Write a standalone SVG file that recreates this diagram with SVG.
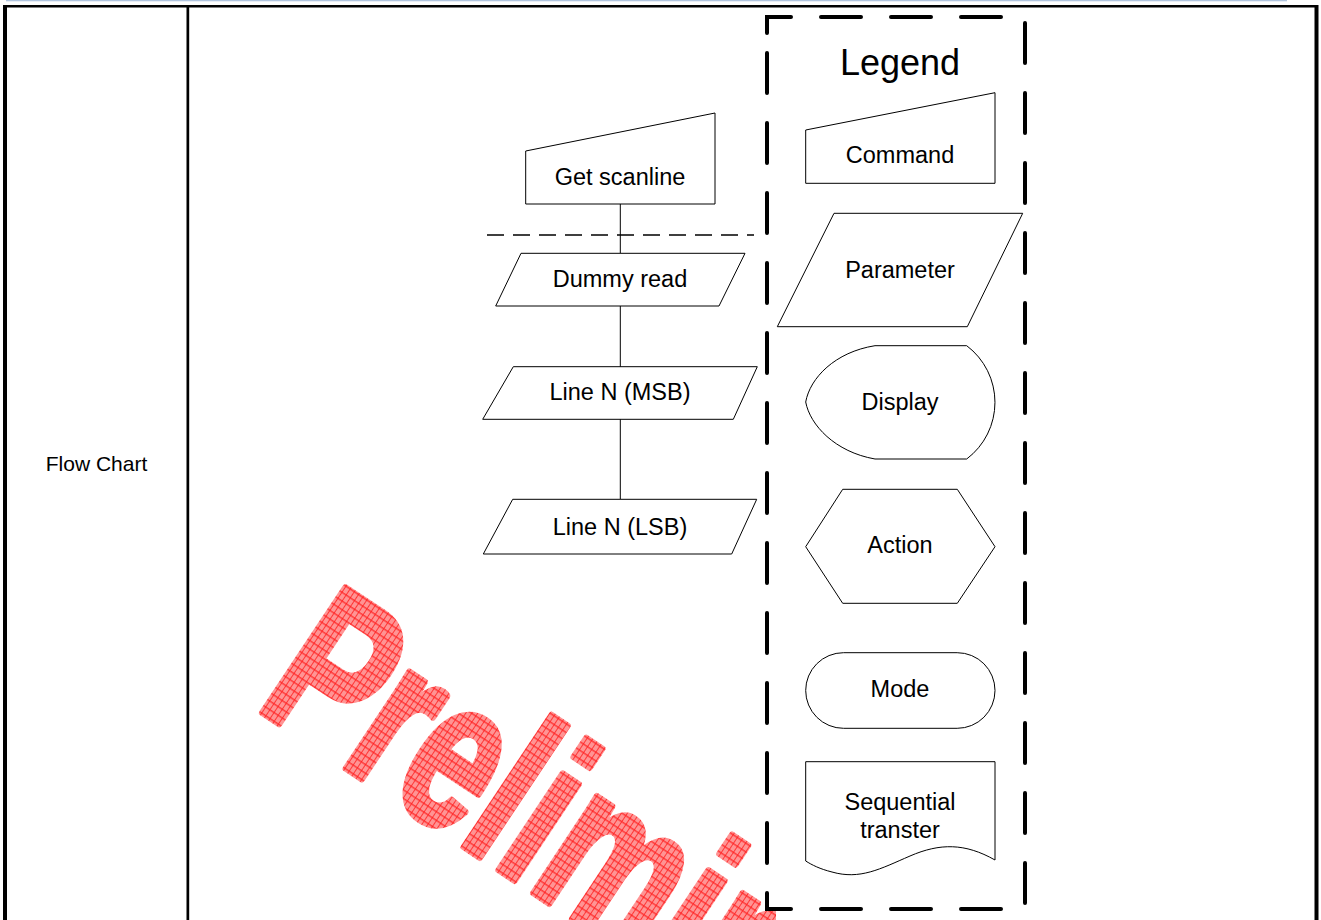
<svg xmlns="http://www.w3.org/2000/svg" width="1321" height="920" viewBox="0 0 1321 920">
<style>
.shape{fill:#fff;stroke:#000;stroke-width:1}
.lbl{font-family:"Liberation Sans",Arial,sans-serif;font-size:23.5px;fill:#000;text-anchor:middle}
.conn{stroke:#000;stroke-width:1;fill:none}
</style>
<defs>
<pattern id="hatch" width="5" height="5" patternUnits="userSpaceOnUse">
<rect width="5" height="5" fill="#ff9494"/>
<path d="M0 0.5H5M0.5 0V5" stroke="#ff2020" stroke-width="0.8"/>
</pattern>
<clipPath id="wmclip"><rect x="0" y="0" width="776" height="920"/></clipPath>
</defs>
<rect width="1321" height="920" fill="#fff"/>
<rect x="6" y="0" width="1281" height="1.3" fill="#b0c4de"/>
<g id="table">
<rect x="3" y="5" width="1315" height="2.5" fill="#000"/>
<rect x="3" y="5" width="4" height="915" fill="#000"/>
<rect x="186.5" y="5" width="2.7" height="915" fill="#000"/>
<rect x="1314.5" y="5" width="4" height="915" fill="#000"/>
<text x="96.5" y="471" style="font-family:'Liberation Sans',Arial,sans-serif;font-size:21px;text-anchor:middle">Flow Chart</text>
</g>
<g id="watermark" clip-path="url(#wmclip)">
<text transform="translate(253.4,706.6) rotate(33.6) scale(1,1.45)" x="0" y="0" style="font-family:'Liberation Sans',Arial,sans-serif;font-weight:bold;font-size:150px" fill="url(#hatch)" stroke="url(#hatch)" stroke-width="5" stroke-linejoin="round">Preliminary</text>
</g>
<g id="connectors">
<line class="conn" x1="620.3" y1="204" x2="620.3" y2="253"/>
<line class="conn" x1="620.3" y1="306" x2="620.3" y2="367"/>
<line class="conn" x1="620.3" y1="419" x2="620.3" y2="499"/>
<line x1="487" y1="235" x2="754" y2="235" stroke="#000" stroke-width="1.3" stroke-dasharray="17 9"/>
</g>
<g id="node-get-scanline">
<path class="shape" d="M525.7 151 L715 113 L715 204 L525.7 204 Z"/>
<text class="lbl" x="620" y="185">Get scanline</text>
</g>
<g id="node-dummy-read">
<path class="shape" d="M521 253.3 L745 253.3 L719 306 L495.7 306 Z"/>
<text class="lbl" x="620" y="287">Dummy read</text>
</g>
<g id="node-line-msb">
<path class="shape" d="M513.3 366.7 L757.3 366.7 L733.3 419.3 L482.7 419.3 Z"/>
<text class="lbl" x="620" y="400">Line N (MSB)</text>
</g>
<g id="node-line-lsb">
<path class="shape" d="M512.7 499.3 L756.7 499.3 L731.7 554 L483.3 554 Z"/>
<text class="lbl" x="620" y="535">Line N (LSB)</text>
</g>
<g id="legend">
<path d="M767 33 L767 17 L1025 17 L1025 909 L767 909 Z" fill="none" stroke="#000" stroke-width="4" stroke-linecap="round" stroke-dasharray="40 30"/>
<text x="900" y="75" style="font-family:'Liberation Sans',Arial,sans-serif;font-size:36px;text-anchor:middle">Legend</text>
</g>
<g id="legend-command">
<path class="shape" d="M805.7 130 L995 92.7 L995 183.3 L805.7 183.3 Z"/>
<text class="lbl" x="900" y="163.3">Command</text>
</g>
<g id="legend-parameter">
<path class="shape" d="M834 213.3 L1022.7 213.3 L967.3 326.7 L777.3 326.7 Z"/>
<text class="lbl" x="900" y="278.3">Parameter</text>
</g>
<g id="legend-display">
<path class="shape" d="M875 345.7 L966.7 345.7 A70.9 70.9 0 0 1 966.7 459 L875 459 C835 452 810 425 805.7 402 C810 378 835 352 875 345.7 Z"/>
<text class="lbl" x="900" y="410">Display</text>
</g>
<g id="legend-action">
<path class="shape" d="M842.7 489.3 L957.3 489.3 L995 546.7 L957.3 603.3 L842.7 603.3 L805.7 546.7 Z"/>
<text class="lbl" x="900" y="552.7">Action</text>
</g>
<g id="legend-mode">
<rect class="shape" x="805.7" y="652.7" width="189.3" height="75.6" rx="37.8" ry="37.8"/>
<text class="lbl" x="900" y="696.7">Mode</text>
</g>
<g id="legend-sequential">
<path class="shape" d="M805.7 761.7 L995 761.7 L995 860 C965 843 940 843 910 856 C880 869 860 880 832 872 C820 869 812 865 805.7 861 Z"/>
<text class="lbl" x="900" y="810">Sequential</text>
<text class="lbl" x="900" y="838.3">transter</text>
</g>
</svg>
